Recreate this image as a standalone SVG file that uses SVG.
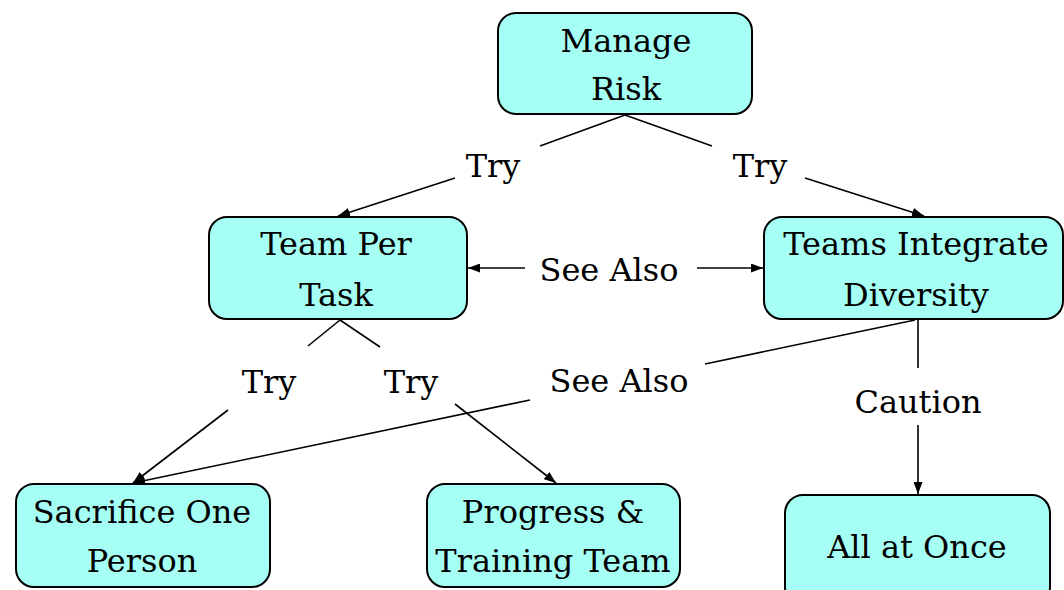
<svg xmlns="http://www.w3.org/2000/svg" width="1064" height="590" viewBox="0 0 1064 590">
  <defs>
    <marker id="arrow" viewBox="0 0 12 9" refX="12" refY="4.5" markerWidth="12" markerHeight="9" markerUnits="userSpaceOnUse" orient="auto-start-reverse">
      <path d="M0,0 L12,4.5 L0,9 z" fill="#000"/>
    </marker>
    <style>
      .node rect { fill: #a6fff5; stroke: #000; stroke-width: 2; }
      .node text, .label { font-family: "DejaVu Serif", "Liberation Serif", serif; font-size: 32px; fill: #000; text-anchor: middle; }
      .edge { stroke: #000; stroke-width: 1.6; fill: none; }
    </style>
  </defs>
  <rect width="1064" height="590" fill="#fff"/>

  <g id="connectors">
    <!-- Manage Risk -> Team Per Task -->
    <line class="edge" x1="625" y1="115" x2="540" y2="146"/>
    <line class="edge" x1="455" y1="178" x2="338" y2="216" marker-end="url(#arrow)"/>
    <text class="label" x="493" y="177">Try</text>
    <!-- Manage Risk -> Teams Integrate Diversity -->
    <line class="edge" x1="625" y1="115" x2="712" y2="146"/>
    <line class="edge" x1="805" y1="178" x2="924" y2="216" marker-end="url(#arrow)"/>
    <text class="label" x="760" y="177">Try</text>
    <!-- See Also between the two middle nodes -->
    <line class="edge" x1="525" y1="268" x2="468" y2="268" marker-end="url(#arrow)"/>
    <line class="edge" x1="697" y1="268" x2="763" y2="268" marker-end="url(#arrow)"/>
    <text class="label" x="609" y="281">See Also</text>
    <!-- Team Per Task -> Sacrifice One Person -->
    <line class="edge" x1="340" y1="320" x2="308" y2="346"/>
    <line class="edge" x1="228" y1="410" x2="133" y2="483" marker-end="url(#arrow)"/>
    <text class="label" x="269" y="393">Try</text>
    <!-- Team Per Task -> Progress & Training Team -->
    <line class="edge" x1="340" y1="320" x2="380" y2="347"/>
    <line class="edge" x1="455" y1="404" x2="556" y2="483" marker-end="url(#arrow)"/>
    <text class="label" x="411" y="393">Try</text>
    <!-- Teams Integrate Diversity -> Sacrifice One Person -->
    <line class="edge" x1="915" y1="320" x2="705" y2="364"/>
    <line class="edge" x1="530" y1="400" x2="133" y2="483" marker-end="url(#arrow)"/>
    <text class="label" x="619" y="392">See Also</text>
    <!-- Teams Integrate Diversity -> All at Once -->
    <line class="edge" x1="918" y1="320" x2="918" y2="368"/>
    <line class="edge" x1="918" y1="425" x2="918" y2="494" marker-end="url(#arrow)"/>
    <text class="label" x="918" y="413">Caution</text>
  </g>

  <g id="manage-risk" class="node">
    <rect x="498" y="13" width="254" height="101" rx="18"/>
    <text x="626" y="52">Manage</text>
    <text x="626" y="100">Risk</text>
  </g>
  <g id="team-per-task" class="node">
    <rect x="209" y="217" width="258" height="102" rx="18"/>
    <text x="336" y="255">Team Per</text>
    <text x="336" y="306">Task</text>
  </g>
  <g id="teams-integrate-diversity" class="node">
    <rect x="764" y="217" width="299" height="102" rx="18"/>
    <text x="916" y="255">Teams Integrate</text>
    <text x="916" y="306">Diversity</text>
  </g>
  <g id="sacrifice-one-person" class="node">
    <rect x="16" y="484" width="254" height="103" rx="18"/>
    <text x="142" y="523">Sacrifice One</text>
    <text x="142" y="572">Person</text>
  </g>
  <g id="progress-training-team" class="node">
    <rect x="427" y="484" width="253" height="103" rx="18"/>
    <text x="553" y="523">Progress &amp;</text>
    <text x="553" y="572">Training Team</text>
  </g>
  <g id="all-at-once" class="node">
    <rect x="785" y="495" width="265" height="110" rx="18"/>
    <text x="917" y="558">All at Once</text>
  </g>
</svg>
